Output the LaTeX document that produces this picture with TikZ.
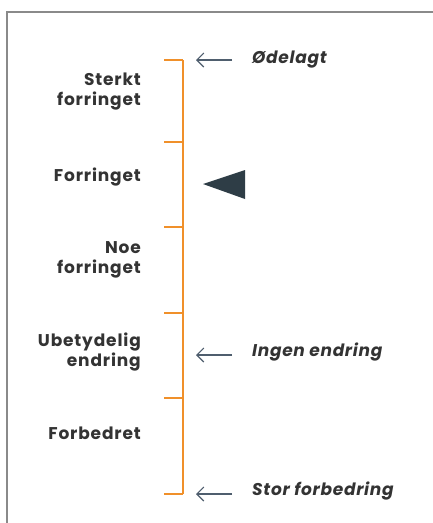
\documentclass[tikz,border=0pt]{standalone}
\usepackage{fontspec}
\setmainfont{Poppins}
\usetikzlibrary{arrows.meta}
\definecolor{orng}{HTML}{F0902A}
\definecolor{darktri}{HTML}{2E3D46}
\definecolor{arrowc}{HTML}{4F5E6E}
\definecolor{txt}{HTML}{333333}
\definecolor{frame}{HTML}{8A8A8A}
\tikzset{
  lbl/.style={anchor=east, align=right, font=\fontsize{17}{20}\selectfont\bfseries\addfontfeatures{LetterSpace=5}, text=txt, inner sep=0pt},
  note/.style={anchor=west, font=\fontsize{17}{20}\selectfont\bfseries\itshape\addfontfeatures{LetterSpace=4}, text=txt, inner sep=0pt},
  scaleline/.style={draw=orng, line width=2.4pt},
  ptr/.style={draw=arrowc, line width=1.1pt, -{Straight Barb[length=7pt,width=14pt]}},
}
\begin{document}
\begin{tikzpicture}[x=1pt,y=-1pt]
\useasboundingbox (0,0) rectangle (433,523);
\fill[white] (0,0) rectangle (433,523);
\draw[frame, line width=1.6pt] (7,523) -- (7,12) -- (433,12);
% ticks
\coordinate (t0) at (183,60);
\coordinate (t1) at (183,142);
\coordinate (t2) at (183,227);
\coordinate (t3) at (183,313);
\coordinate (t4) at (183,398);
\coordinate (t5) at (183,494);
\draw[scaleline] (t0) -- (t5);
\foreach \t in {t0,t1,t2,t3,t4,t5} \draw[scaleline] (\t) -- ++(-19,0);
% labels
\node[lbl] (l1) at (141,92) {Sterkt\\forringet};
\node[lbl] (l2) at (141,177) {Forringet};
\node[lbl] (l3) at (141,260) {Noe\\forringet};
\node[lbl] (l4) at (141,352) {Ubetydelig\\endring};
\node[lbl] (l5) at (141,433) {Forbedret};
% notes
\node[note] (n1) at (252,60) {Ødelagt};
\node[note] (n2) at (252,352) {Ingen endring};
\node[note] (n3) at (252,491) {Stor forbedring};
\coordinate (a1s) at (232,60); \coordinate (a1e) at (196,60);
\coordinate (a2s) at (232,355); \coordinate (a2e) at (196,355);
\coordinate (a3s) at (232,494); \coordinate (a3e) at (196,494);
\draw[ptr] (a1s) -- (a1e);
\draw[ptr] (a2s) -- (a2e);
\draw[ptr] (a3s) -- (a3e);
% marker
\coordinate (m1) at (203,184);
\coordinate (m2) at (245,170);
\coordinate (m3) at (245,199);
\fill[darktri] (m1) -- (m2) -- (m3) -- cycle;
\end{tikzpicture}
\end{document}
